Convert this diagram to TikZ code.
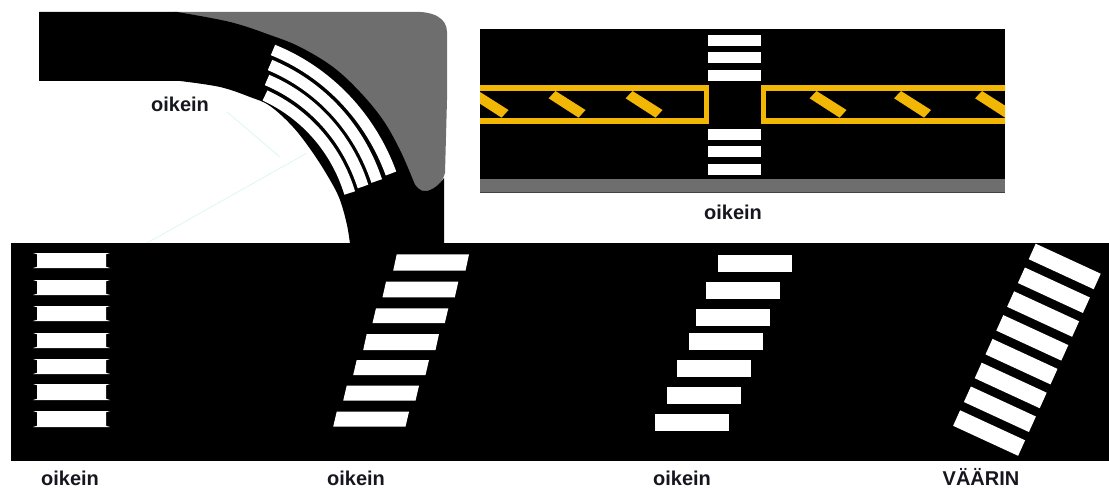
\documentclass[tikz,border=0pt]{standalone}
\usepackage{fontspec}
\setmainfont{Liberation Sans}
\definecolor{roadgray}{HTML}{6E6E6E}
\definecolor{lineyellow}{HTML}{F2B705}
\definecolor{labelink}{HTML}{16161F}
\definecolor{palecyan}{HTML}{DDF6F4}
\tikzset{
  road/.style={fill=black,draw=none},
  verge/.style={fill=roadgray,draw=none},
  stripe/.style={fill=white,draw=none},
  arcstripe/.style={draw=white,line width=8.4pt},
  yellowline/.style={draw=lineyellow,line width=3.9pt},
  yellowbar/.style={fill=lineyellow,draw=none},
  guide/.style={draw=palecyan,line width=0.6pt},
  lbl/.style={font=\bfseries\fontsize{15}{18}\selectfont,text=labelink,anchor=base,inner sep=0pt}
}
\begin{document}
\begin{tikzpicture}[x=0.75pt,y=-0.75pt]
\useasboundingbox (0,0) rectangle (1109,488);
% --- curved crossing ---
\draw[guide] (227,112) -- (280,157);
\draw[guide] (307,153) -- (147,243);
\path[verge] (175,12) -- (413,12) .. controls (433,11) and (447,18) .. (447,32)
  -- (447,100) -- (445,173) .. controls (442,184) and (434,191) .. (425,191)
  .. controls (418,191) and (413,187) .. (410,175) -- cycle;
\path[road] (39,12) -- (177,12)
  -- plot[smooth,tension=0.6] coordinates {(177,12) (230,22) (270,35) (300,47) (333,67) (360,92) (383,120) (400,150) (413,180)}
  .. controls (415,187) and (420,191) .. (425,191)
  .. controls (432,191) and (439,185) .. (444,178)
  -- (444,244) -- (350,244)
  -- plot[smooth,tension=0.6] coordinates {(350,244) (347,225) (340,200) (330,180) (313,153) (293,127) (270,106) (250,97) (220,87) (180,81)}
  -- (39,81) -- cycle;
% four arc stripes
\draw[arcstripe] (273,50) .. controls (328.2,72.3) and (370.6,117.6) .. (391,173.5);
\draw[arcstripe] (270,65) .. controls (320.8,86.3) and (359.2,128.2) .. (376.7,181);
\draw[arcstripe] (267,80) .. controls (313.3,99.5) and (347.8,138.9) .. (363,186.5);
\draw[arcstripe] (265,95.5) .. controls (305.9,114.2) and (336.4,149.5) .. (349.7,193);
\node[lbl] (labelcurve) at (180,112) {oikein};
% --- top right panel ---
\path[road] (480,29) rectangle (1005,179);
\path[verge] (480,179) rectangle (1005,192);
\draw[black!75,line width=0.5pt] (480,192) -- (1005,192);
\foreach \y in {35,52,70,129,146,164}{
  \path[stripe] (708,\y) rectangle (761,\y+11);
}
\begin{scope}
\clip (480,29) rectangle (1005,192);
\draw[yellowline] (470,88) -- (706.5,88) -- (706.5,121) -- (470,121);
\draw[yellowline] (1015,88) -- (763.5,88) -- (763.5,121) -- (1015,121);
\foreach \dx in {-77,0,77,261,345.5,426.5}{
  \path[yellowbar] (548.6+\dx,98.3) -- (555.5+\dx,91) -- (585.5+\dx,110) -- (578.6+\dx,117.7) -- cycle;
}
\end{scope}
\node[lbl] (labeltop) at (733,220) {oikein};
% --- bottom band ---
\path[road] (11,243.5) rectangle (1109,461);
% column 1: straight stripes with small flares
\foreach \ya/\yb in {253/268,280/295,306/321,333/348,359/374,384/400,411/427}{
  \path[stripe] (33,\ya) -- (110,\ya) -- (106,\ya+1.2) -- (106,\yb-1.2) -- (110,\yb)
     -- (33,\yb) -- (37,\yb-1.2) -- (37,\ya+1.2) -- cycle;
}
% column 2: parallelograms
\foreach \xa/\ya/\yb in {396.7/254.3/270.7, 386/281.7/297.3, 376/308.3/323, 366.7/334/350, 356.7/360/375, 346.7/385.7/400.7, 336.7/411.7/426.7}{
  \path[stripe] (\xa,\ya) -- (\xa+72.3,\ya) -- (\xa+68.8,\yb) -- (\xa-3.5,\yb) -- cycle;
}
% column 3: offset rectangles
\foreach \xa/\ya in {717.7/255.3, 706/282.3, 696/309, 689.3/333.3, 677.3/360, 667.3/387, 655.3/414.3}{
  \path[stripe] (\xa,\ya) rectangle (\xa+74,\ya+17);
}
% column 4: slanted stripes
\foreach \i in {0,...,7}{
  \path[stripe] ({1035.7-10.8*\i},{243.7+23.8*\i}) -- ++(65,30) -- ++(-7,15.5) -- ++(-65,-30) -- cycle;
}
\node[lbl] (labela) at (70,485.5) {oikein};
\node[lbl] (labelb) at (356,485.5) {oikein};
\node[lbl] (labelc) at (682,485.5) {oikein};
\node[lbl] (labeld) at (981,485.5) {VÄÄRIN};
\end{tikzpicture}
\end{document}
